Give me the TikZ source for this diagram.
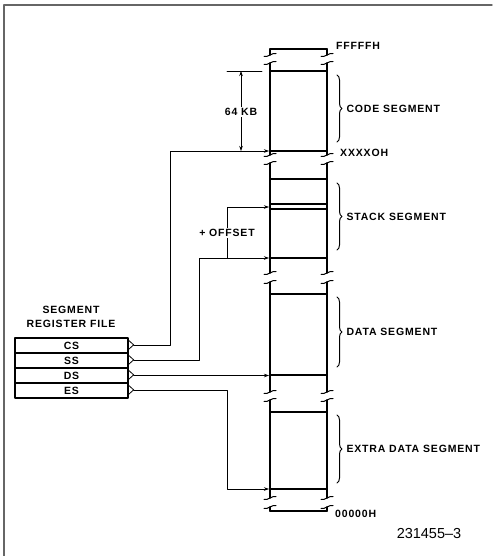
\documentclass[tikz,border=0pt]{standalone}
\usepackage{fontspec}
\setmainfont{Liberation Sans}
\newfontfamily\lblfont[LetterSpace=8]{Liberation Sans}
\usetikzlibrary{arrows.meta,decorations.pathreplacing}
\tikzset{
  mem/.style={line width=1.6pt},
  wire/.style={line width=0.6pt},
  reg/.style={draw, line width=1.3pt, minimum width=113pt, minimum height=15pt, inner sep=0pt},
  segbrace/.style={decorate, decoration={brace, amplitude=5pt}, line width=1pt},
  seglabel/.style={anchor=west, inner sep=0pt},
}
\begin{document}
\begin{tikzpicture}[x=1pt, y=-1pt, >={Stealth[length=5pt,width=3.5pt]}, font=\lblfont\fontsize{10.5}{12}\selectfont\bfseries, line join=round, line cap=round]
		\def\xl{270} \def\xr{327} % memory column edges
		\useasboundingbox (0,0) rectangle (492,556);
		\draw[gray!80!black, line width=1.4pt] (4,556) -- (4,5) -- (492,5);
		% memory column, cut into pieces
		\foreach \a/\b in {49/55, 63/155, 163/273, 282/392, 400/498, 507/511}
			\draw[mem] (\xl,\a) -- (\xl,\b) (\xr,\a) -- (\xr,\b);
		\foreach \y in {49,71,151,179,204,209,258,294,375,412,489,511}
			\draw[mem] (\xl,\y) -- (\xr,\y);
		\foreach \y in {55,63,155,163,273,282,392,400,498,507}
			\foreach \x in {\xl,\xr}
				\draw[line width=1pt] (\x-6,\y+1.5) .. controls (\x-2,\y+2.5) and (\x+2,\y-2.5) .. (\x+6,\y-1.5);
		\node[seglabel] (ftop) at (336,46) {FFFFFH};
		\node[seglabel] (xbase) at (340,153) {XXXXOH};
		\node[seglabel] (fbot) at (335,514) {00000H};
		% segments
		\draw[segbrace] (337,75) -- (337,142) node[midway, seglabel, xshift=9pt] (code) {CODE SEGMENT};
		\draw[segbrace] (337,183) -- (337,250) node[midway, seglabel, xshift=9pt] (stack) {STACK SEGMENT};
		\draw[segbrace] (337,297) -- (337,367) node[midway, seglabel, xshift=9pt] (data) {DATA SEGMENT};
		\draw[segbrace] (337,415) -- (337,483) node[midway, seglabel, xshift=9pt] (extra) {EXTRA DATA SEGMENT};
		% register file
		\node[align=center, font=\lblfont\fontsize{10.5}{14}\selectfont\bfseries] (rftitle) at (71,317) {SEGMENT\\REGISTER FILE};
		\node[reg] (cs) at (71.5,345.5) {CS};
		\node[reg] (ss) at (71.5,360.5) {SS};
		\node[reg] (ds) at (71.5,375.5) {DS};
		\node[reg] (es) at (71.5,390.5) {ES};
		\foreach \r in {cs,ss,ds,es}{
			\draw[line width=0.8pt] (\r.north east) ++(0,3) -- ++(5,4.5) -- ++(-5,4.5);
			\coordinate (\r p) at ([xshift=5pt]\r.east);
		}
		% targets on the column
		\coordinate (codebase) at (269,151);
		\coordinate (stkbase) at (269,258);
		\coordinate (stktop) at (269,207);
		\coordinate (database) at (269,375.5);
		\coordinate (extrabase) at (269,489);
		\coordinate (offbr) at (227,258);
		\draw[wire,->] (csp) -- ++(37,0) |- (codebase);
		\draw[wire,->] (ssp) -- ++(66,0) |- (stkbase);
		\draw[wire,->] (offbr) |- (stktop);
		\draw[wire,->] (dsp) -- (database);
		\draw[wire,->] (esp) -- ++(94,0) |- (extrabase);
		\node[fill=white, inner sep=1pt] (offset) at (227,233) {+ OFFSET};
		% 64 KB
		\coordinate (kbtop) at (241,71);
		\coordinate (kbbot) at (241,151);
		\draw[wire] (227,71) -- (262,71);
		\draw[wire,<->] (kbtop) -- (kbbot);
		\node[fill=white, inner sep=1pt] (kb) at (241,112) {64 KB};
		\node (fig) at (429,534) {\rmfamily\fontsize{14.5}{16}\selectfont\mdseries 231455--3};
\end{tikzpicture}
\end{document}
